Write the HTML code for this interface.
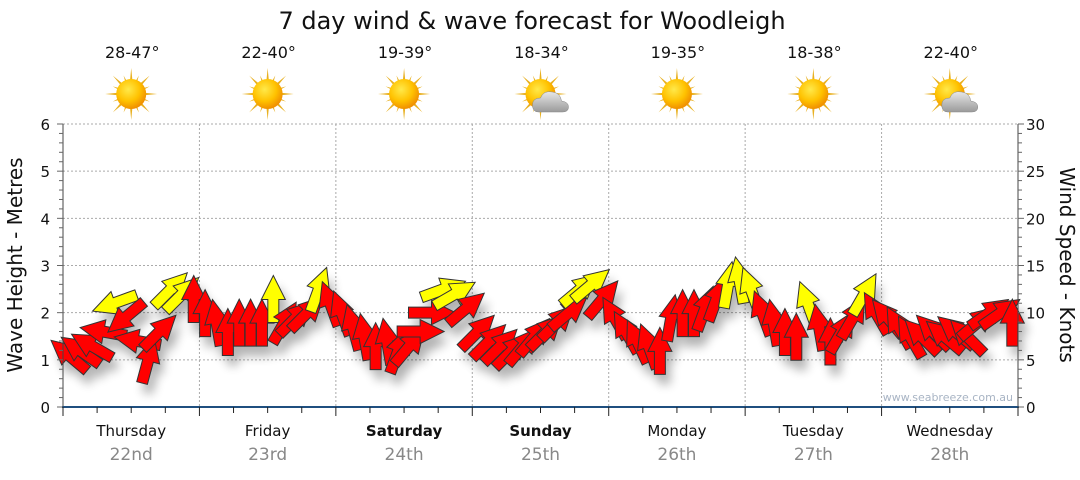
<!DOCTYPE html>
<html><head><meta charset="utf-8"><style>
body{margin:0;background:#fff;}
svg text{font-family:"DejaVu Sans","Liberation Sans",sans-serif;}
</style></head><body>
<svg id="chart" width="1080" height="475" viewBox="0 0 1080 475" xmlns="http://www.w3.org/2000/svg">
<defs>
<filter id="sh" x="-50%" y="-50%" width="200%" height="200%"><feGaussianBlur stdDeviation="5"/></filter>
<radialGradient id="sun" cx="40%" cy="35%" r="65%"><stop offset="0" stop-color="#ffe94a"/><stop offset="0.6" stop-color="#ffc200"/><stop offset="1" stop-color="#f09000"/></radialGradient>
<linearGradient id="cloud" x1="0" y1="0" x2="0" y2="1"><stop offset="0" stop-color="#e8e8e8"/><stop offset="1" stop-color="#9a9a9a"/></linearGradient>
</defs>
<text x="532" y="29" font-size="24" text-anchor="middle" fill="#111">7 day wind &amp; wave forecast for Woodleigh</text>
<g id="grid"></g>
<g id="icons"></g>
<g id="shadows" filter="url(#sh)" opacity="0.3"></g>
<g id="arrows"></g>
<g id="axes"></g>
<text transform="translate(22,265) rotate(-90)" font-size="20" text-anchor="middle" fill="#111">Wave Height - Metres</text>
<text transform="translate(1060,265) rotate(90)" font-size="20" text-anchor="middle" fill="#111">Wind Speed - Knots</text>
<text x="1013" y="401" font-size="11" text-anchor="end" fill="#a8b4c4">www.seabreeze.com.au</text>
</svg>
<script>
const days=["Thursday","Friday","Saturday","Sunday","Monday","Tuesday","Wednesday"];
const dates=["22nd","23rd","24th","25th","26th","27th","28th"];
const boldDays=[false,false,true,true,false,false,false];
const temps=["28-47°","22-40°","19-39°","18-34°","19-35°","18-38°","22-40°"];
const cloudy=[false,false,false,true,false,false,true];
const leftTicks=[0,1,2,3,4,5,6];
const rightTicks=[0,5,10,15,20,25,30];
const heights=[1.1,1.2,1.3,1.6,2.2,1.9,1.4,1.0,1.6,2.5,2.4,2.3,
 2.0,1.8,1.6,1.8,1.8,1.8,2.3,1.8,1.9,2.0,2.5,2.2,
 2.0,1.7,1.5,1.3,1.4,1.2,1.3,1.6,2.0,2.5,2.4,2.1,
 1.6,1.4,1.3,1.2,1.3,1.5,1.6,1.8,2.0,2.5,2.6,2.3,
 1.9,1.6,1.4,1.3,1.2,1.9,2.0,2.0,2.1,2.3,2.6,2.7,
 2.5,2.0,1.8,1.6,1.5,2.2,1.7,1.4,1.6,1.9,2.4,2.0,
 1.9,1.7,1.5,1.5,1.6,1.5,1.6,1.5,1.8,2.0,2.0,1.8];
const dirs=[-50,-55,-60,-80,-110,-130,-80,15,45,45,45,0,
 0,-10,0,0,0,0,0,30,45,45,20,-20,
 -20,-15,-10,0,-10,20,40,90,90,70,60,50,
 45,45,45,45,40,40,45,45,50,50,50,40,
 -30,-30,-25,-20,0,10,0,0,20,20,10,-10,
 -20,-20,-10,0,0,-20,-10,0,30,30,30,-30,
 -40,-30,-30,-45,-45,-50,-50,-45,50,55,55,0];
const strong=[1,1,1,1,0,1,1,1,1,0,0,1,
 1,1,1,1,1,1,0,1,1,1,0,1,
 1,1,1,1,1,1,1,1,1,0,0,1,
 1,1,1,1,1,1,1,1,1,0,0,1,
 1,1,1,1,1,1,1,1,1,1,0,0,
 0,1,1,1,1,0,1,1,1,1,0,1,
 1,1,1,1,1,1,1,1,1,1,1,1];

const NS="http://www.w3.org/2000/svg";
const X0=63,X1=1018,Y0=407,Y6=124,dayW=(X1-X0)/7;
const xT=h=>X0+h*dayW/24;
const yL=v=>Y0-(Y0-Y6)*v/6;
const yR=v=>Y0-(Y0-Y6)*v/30;
function el(tag,attrs,parent,txt){const e=document.createElementNS(NS,tag);for(const k in attrs)e.setAttribute(k,attrs[k]);if(txt!==undefined)e.textContent=txt;parent.appendChild(e);return e;}
const grid=document.getElementById('grid'),axes=document.getElementById('axes'),icons=document.getElementById('icons');
leftTicks.forEach(v=>{if(v>0){const l=el('line',{x1:X0,x2:X1,y1:yL(v),y2:yL(v),stroke:'#aaa','stroke-dasharray':'2,2'},grid);

}});
for(let d=1;d<7;d++){const l=el('line',{x1:X0+d*dayW,x2:X0+d*dayW,y1:Y6,y2:Y0,stroke:'#aaa','stroke-dasharray':'2,2'},grid);

}
el('line',{x1:X0,x2:X0,y1:Y6,y2:Y0,stroke:'#444'},axes);
el('line',{x1:X1,x2:X1,y1:Y6,y2:Y0,stroke:'#444'},axes);
el('line',{x1:X0-1,x2:X1+1,y1:Y0,y2:Y0,stroke:'#1f4f7f','stroke-width':2},axes);
for(let i=0;i<=30;i++){const v=i*0.2;el('line',{x1:X0-(i%5?4:6),x2:X0,y1:yL(v),y2:yL(v),stroke:'#666'},axes);}
for(let i=0;i<=30;i++){el('line',{x1:X1,x2:X1+(i%5?4:6),y1:yR(i),y2:yR(i),stroke:'#666'},axes);}
leftTicks.forEach(v=>{const t=el('text',{x:X0-13,y:yL(v)+6,'font-size':15,'text-anchor':'end',fill:'#111'},axes,String(v));

});
rightTicks.forEach(v=>{const t=el('text',{x:X1+8,y:yR(v)+6,'font-size':15,'text-anchor':'start',fill:'#111'},axes,String(v));

});
for(let h=0;h<=168;h+=6){el('line',{x1:xT(h),x2:xT(h),y1:Y0,y2:Y0+(h%24?6:9),stroke:'#222'},axes);}
days.forEach((d,i)=>{const cx=X0+(i+0.5)*dayW;
const t=el('text',{x:cx,y:436,'font-size':15,'text-anchor':'middle',fill:'#111','font-weight':boldDays[i]?'bold':'normal'},axes,d);


const t2=el('text',{x:cx,y:460,'font-size':17,'text-anchor':'middle',fill:'#888'},axes,dates[i]);


const t3=el('text',{x:cx+1,y:58,'font-size':16,'text-anchor':'middle',fill:'#111'},icons,temps[i]);


const g=el('g',{transform:`translate(${cx},94)`},icons);


for(let k=0;k<16;k++){const a=k*22.5,len=k%2?20:26;el('polygon',{points:`-2.5,0 0,-${len} 2.5,0`,fill:'#e8b020',transform:`rotate(${a})`},g);}
el('circle',{r:15,fill:'url(#sun)'},g);
if(cloudy[i]){el('path',{d:'M-2,18 Q-8,18 -8,11 Q-8,4 0,4 Q3,-4 12,-2 Q20,-1 21,7 Q28,8 28,13 Q28,18 22,18 Z',fill:'url(#cloud)',stroke:'#888','stroke-width':0.5},g);}
});
const shadows=document.getElementById('shadows'),arrows=document.getElementById('arrows');
const shape='M-5.5,24 L5.5,24 L5.5,1 L12,1 L0,-23 L-12,1 L-5.5,1 Z';
heights.forEach((h,i)=>{const x=xT(i*2+1),y=yL(h);
el('path',{d:shape,fill:'#000',transform:`translate(${x+5},${y+10}) rotate(${dirs[i]})`},shadows);
const a=el('path',{d:shape,fill:strong[i]?'#ff0000':'#ffff00',stroke:'#333','stroke-width':1,transform:`translate(${x},${y}) rotate(${dirs[i]})`},arrows);

});
</script>
</body></html>
